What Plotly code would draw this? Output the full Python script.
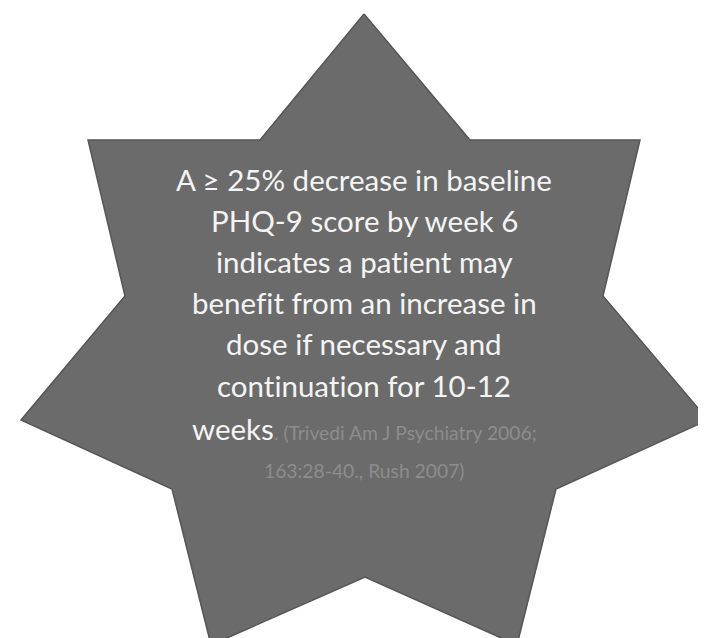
import plotly.graph_objects as go

# Star outline vertices (clockwise from the top point)
star_x = [356, 462, 632, 595, 700, 548, 509, 357, 203, 164, 13, 117, 80, 252, 356]
star_y = [6, 132, 132, 288, 412, 481, 637, 569, 637, 481, 412, 288, 132, 132, 6]

main_lines = [
    "A ≥ 25% decrease in baseline",
    "PHQ-9 score by week 6",
    "indicates a patient may",
    "benefit from an increase in",
    "dose if necessary and",
    "continuation for 10-12",
]
last_main = "weeks"
ref_line1 = ". (Trivedi Am J Psychiatry 2006;"
ref_line2 = "163:28-40., Rush 2007)"

main_baselines = [183, 224, 265, 306, 347, 389]
weeks_baseline = 432
ref2_baseline = 470

FONT = "Lato, 'Noto Sans', sans-serif"
MAIN_FS = 29.5
REF_FS = 19.3
WHITE = "#f4f4f4"
REF_COLOR = "#8d8d8d"
NOLIG = "font-variant-ligatures:none"

fig = go.Figure()
fig.add_trace(go.Scatter(
    x=star_x, y=star_y, mode="lines", fill="toself",
    fillcolor="#6b6b6b", line=dict(color="#565656", width=1.5),
    hoverinfo="skip", showlegend=False,
))

cx = 356
annotations = []
for txt, b in zip(main_lines, main_baselines):
    annotations.append(dict(
        x=cx, y=b - 0.39 * MAIN_FS, xref="x", yref="y",
        text=f"<span style='{NOLIG}'>{txt}</span>",
        showarrow=False, xanchor="center", yanchor="middle",
        font=dict(family=FONT, size=MAIN_FS, color=WHITE),
    ))
annotations.append(dict(
    x=cx, y=weeks_baseline - 0.39 * MAIN_FS, xref="x", yref="y",
    text=last_main + f"<span style='font-size:{REF_FS}px;color:{REF_COLOR}'>{ref_line1}</span>",
    showarrow=False, xanchor="center", yanchor="middle",
    font=dict(family=FONT, size=MAIN_FS, color=WHITE),
))
annotations.append(dict(
    x=cx, y=ref2_baseline - 0.39 * REF_FS, xref="x", yref="y", text=ref_line2,
    showarrow=False, xanchor="center", yanchor="middle",
    font=dict(family=FONT, size=REF_FS, color=REF_COLOR),
))

fig.update_layout(
    width=706, height=638,
    margin=dict(l=0, r=0, t=0, b=0),
    paper_bgcolor="white", plot_bgcolor="white",
    xaxis=dict(range=[0, 706], visible=False, fixedrange=True),
    yaxis=dict(range=[638, 0], visible=False, fixedrange=True),
    annotations=annotations,
    showlegend=False,
)
fig.write_html("out.html")
